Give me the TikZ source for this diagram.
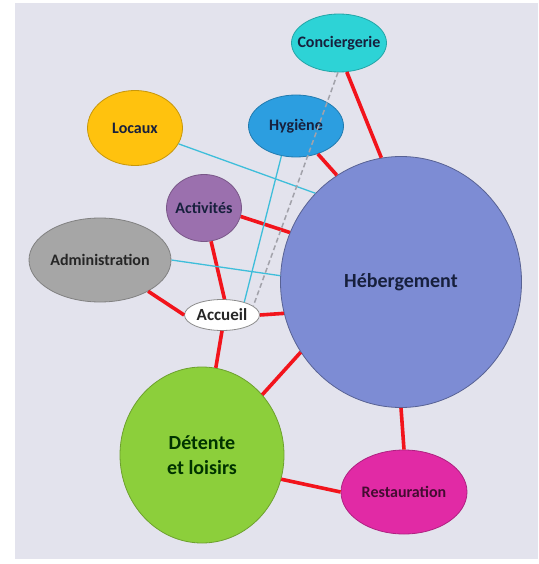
\documentclass[tikz,border=0pt]{standalone}
\usepackage{fontspec}
\setmainfont{Carlito}
\usetikzlibrary{shapes.geometric}

\definecolor{fond}{HTML}{E3E3ED}
\definecolor{cConc}{HTML}{2DD3D6}
\definecolor{cLoc}{HTML}{FFC20E}
\definecolor{cHyg}{HTML}{2C9EE0}
\definecolor{cAct}{HTML}{9B70AE}
\definecolor{cAdm}{HTML}{A6A6A6}
\definecolor{cHeb}{HTML}{7D8CD4}
\definecolor{cAcc}{HTML}{FFFFFF}
\definecolor{cDet}{HTML}{8CCF3B}
\definecolor{cRes}{HTML}{E12AA5}
\definecolor{lienfort}{HTML}{F2141C}
\definecolor{lienbleu}{HTML}{3EBEDA}
\definecolor{liengris}{HTML}{A2A2AA}
\definecolor{encre}{HTML}{17203D}

\begin{document}
\begin{tikzpicture}[x=1pt, y=-1pt,
         bulle/.style = {ellipse, draw=#1!78!black, fill=#1, line width=0.8pt,
         inner sep=0pt},
         petit/.style = {font=\bfseries\fontsize{16}{18}\selectfont, text=encre},
         grand/.style = {font=\bfseries\fontsize{20}{25}\selectfont, text=encre},
         fort/.style  = {draw=lienfort, line width=3.6pt},
         fin/.style   = {draw=lienbleu, line width=1.3pt},
         pointe/.style = {draw=liengris, line width=1.5pt, dash pattern=on 5pt off 3pt}
]
         \useasboundingbox (0,0) rectangle (538,564);
         \fill[fond] (15,3) rectangle (538,559);

         % satellites
         \node[bulle=cConc, minimum width=95, minimum height=58,
               label={[petit]center:Conciergerie}]              (conc) at (339,43)  {};
         \node[bulle=cLoc,  minimum width=95, minimum height=75,
               label={[petit]center:Locaux}]                    (loc)  at (135,128) {};
         \node[bulle=cHyg,  minimum width=95, minimum height=62,
               label={[petit]center:Hygiène}]                   (hyg)  at (296,126) {};
         \node[bulle=cAct,  minimum width=75, minimum height=67,
               label={[petit]center:Activités}]                 (act)  at (204,208) {};
         \node[bulle=cAdm,  minimum width=142, minimum height=84,
               label={[petit, text=black!85]center:Administration}] (adm) at (100,260) {};
         \node[bulle=cAcc,  draw=black!45, minimum width=75, minimum height=31,
               label={[petit, font=\bfseries\fontsize{17}{18}\selectfont,
               text=black!85]center:Accueil}]                   (acc)  at (222,315) {};

         % grands poles
         \node[bulle=cHeb,  draw=cHeb!70!black, minimum width=241, minimum height=251,
               label={[grand]center:Hébergement}]               (heb)  at (401,282) {};
         \node[bulle=cDet,  minimum width=164, minimum height=176,
               label={[grand, align=center, text=black!80!green]center:{Détente\\et loisirs}}] (det) at (202,455) {};
         \node[bulle=cRes,  minimum width=126, minimum height=84,
               label={[petit, text=black!70!cRes]center:Restauration}] (res) at (404,492) {};

         % liens forts
         \draw[fort] (conc.-75) -- (heb.99);
         \draw[fort] (hyg.-52)  -- (heb.121);
         \draw[fort] (act.-13)  -- (heb.156);
         \draw[fort] (act.-78)  -- (acc.81);
         \draw[fort] (adm.-33)  -- (acc.180);
         \draw[fort] (acc.0)    -- (heb.195);
         \draw[fort] (acc.-90)  -- (det.81);
         \draw[fort] (det.45)   -- (heb.215);
         \draw[fort] (heb.270)  -- (res.90);
         \draw[fort] (det.-17)  -- (res.180);

         % liens faibles
         \draw[fin] (loc.-20)  -- (heb.134);
         \draw[fin] (hyg.-116) -- (acc.30);
         \draw[fin] (adm.0)    -- (heb.177);
         \draw[pointe] (conc.-92) -- (acc.16);
\end{tikzpicture}
\end{document}
